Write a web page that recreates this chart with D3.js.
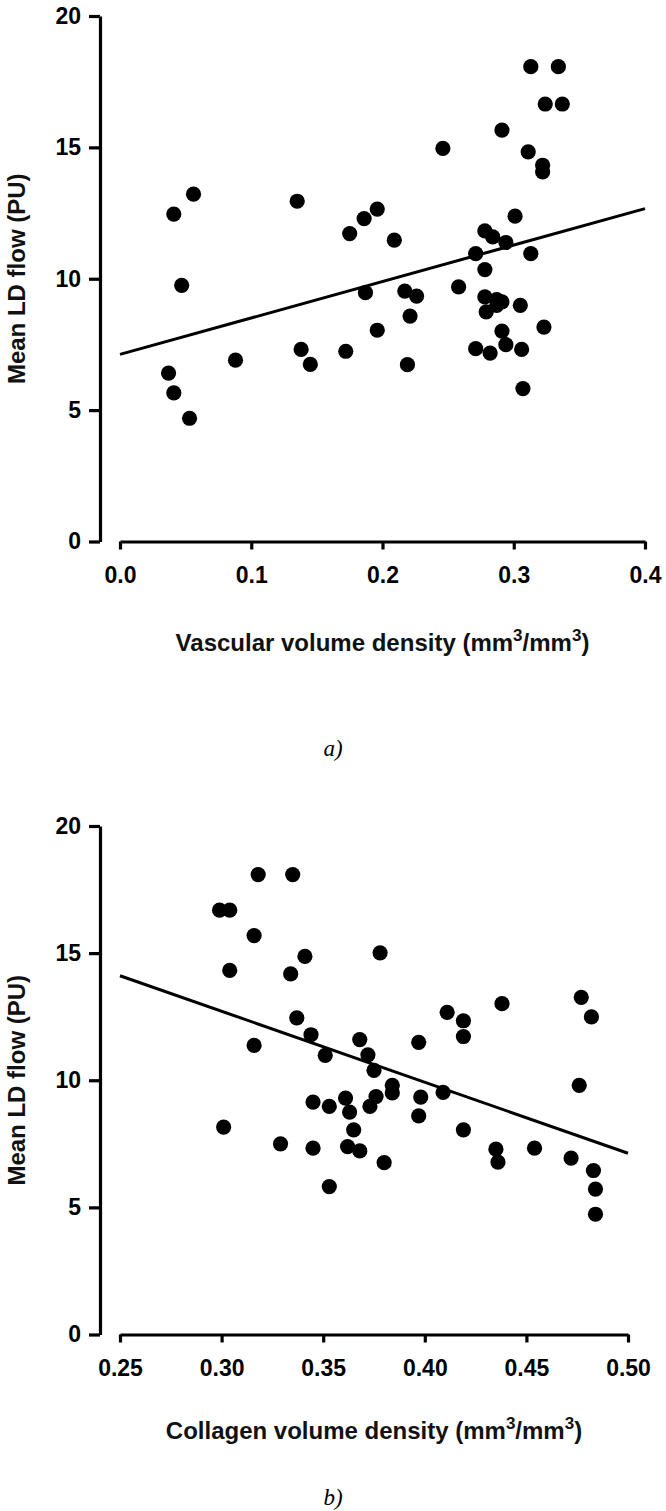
<!DOCTYPE html>
<html>
<head>
<meta charset="utf-8">
<script src="https://cdn.jsdelivr.net/npm/d3@7"></script>
<style>
  html, body { margin: 0; padding: 0; background: #fff; }
  svg { display: block; }
  .tick text { font-family: "Liberation Sans", Arial, sans-serif; font-weight: bold; font-size: 23px; fill: #000; }
  .title { font-family: "Liberation Sans", Arial, sans-serif; font-weight: bold; font-size: 24px; fill: #111; }
  .panel { font-family: "Liberation Serif", "Times New Roman", serif; font-style: italic; font-size: 23px; fill: #000; }
</style>
</head>
<body>
<script>
// ---------- DATA ----------
const yTicks = [0, 5, 10, 15, 20];

// Panel a) vascular volume density vs mean LD flow
const vascX = [0.056, 0.041, 0.047, 0.135, 0.037, 0.041, 0.053, 0.088, 0.138, 0.145,
  0.313, 0.334, 0.324, 0.337, 0.291, 0.246, 0.311, 0.322, 0.322, 0.301,
  0.196, 0.186, 0.175, 0.209, 0.278, 0.284, 0.294, 0.271, 0.313, 0.278,
  0.258, 0.187, 0.217, 0.226, 0.278, 0.287, 0.291, 0.279, 0.287, 0.305,
  0.221, 0.196, 0.291, 0.323, 0.172, 0.271, 0.282, 0.294, 0.306, 0.219, 0.307];
const vascY = [13.22, 12.46, 9.75, 12.95, 6.41, 5.66, 4.69, 6.90, 7.31, 6.74,
  18.07, 18.07, 16.65, 16.65, 15.66, 14.96, 14.83, 14.32, 14.07, 12.38,
  12.65, 12.29, 11.72, 11.47, 11.82, 11.59, 11.38, 10.96, 10.96, 10.35,
  9.69, 9.47, 9.53, 9.34, 9.31, 9.21, 9.12, 8.74, 8.99, 8.99,
  8.58, 8.04, 8.01, 8.16, 7.24, 7.34, 7.17, 7.49, 7.31, 6.73, 5.82];
const vascTicks = [0.0, 0.1, 0.2, 0.3, 0.4];
const vascFitX = [0.0, 0.4];
const vascFitY = [7.12, 12.67];

// Panel b) collagen volume density vs mean LD flow
const collX = [0.318, 0.335, 0.299, 0.304, 0.316, 0.341, 0.304, 0.334, 0.337, 0.344,
  0.316, 0.351, 0.345, 0.353, 0.301, 0.329, 0.345, 0.353, 0.368, 0.397,
  0.372, 0.375, 0.384, 0.384, 0.361, 0.376, 0.373, 0.398, 0.409, 0.363,
  0.397, 0.365, 0.419, 0.362, 0.368, 0.380, 0.435, 0.436, 0.454, 0.472,
  0.483, 0.484, 0.484, 0.476, 0.378, 0.411, 0.419, 0.419, 0.438, 0.477, 0.482];
const collY = [18.09, 18.09, 16.69, 16.69, 15.69, 14.87, 14.32, 14.18, 12.45, 11.79,
  11.37, 10.98, 9.14, 8.97, 8.16, 7.50, 7.33, 5.82, 11.60, 11.49,
  11.00, 10.39, 9.80, 9.50, 9.30, 9.36, 8.97, 9.34, 9.52, 8.75,
  8.60, 8.05, 8.05, 7.39, 7.22, 6.76, 7.29, 6.78, 7.33, 6.94,
  6.45, 5.72, 4.73, 9.80, 15.01, 12.67, 12.34, 11.72, 13.01, 13.26, 12.49];
const collTicks = [0.25, 0.30, 0.35, 0.40, 0.45, 0.50];
const collFitX = [0.25, 0.50];
const collFitY = [14.11, 7.13];

const yTitle = "Mean LD flow (PU)";

// ---------- DRAW ----------
const W = 666, H = 1511;
const svg = d3.select("body").append("svg").attr("width", W).attr("height", H);

function panel(opt) {
  const g = svg.append("g");
  const x = d3.scaleLinear().domain(opt.xDomain).range([opt.x0, opt.x1]);
  const y = d3.scaleLinear().domain([0, 20]).range([opt.yBottom, opt.yTop]);

  // y axis
  const ya = g.append("g").attr("transform", `translate(${opt.yAxisX},0)`)
    .call(d3.axisLeft(y).tickValues(yTicks).tickSize(11).tickSizeOuter(0).tickPadding(8).tickFormat(d3.format("d")));
  // x axis
  const xa = g.append("g").attr("transform", `translate(0,${opt.yBottom})`)
    .call(d3.axisBottom(x).tickValues(opt.xTicks).tickSize(8).tickSizeOuter(0).tickPadding(17).tickFormat(d3.format(opt.fmt)));
  [ya, xa].forEach(a => {
    a.selectAll("path.domain").attr("stroke", "#000").attr("stroke-width", 3.2);
    a.selectAll(".tick line").attr("stroke", "#000").attr("stroke-width", 3.2);
  });

  // regression line
  g.append("path")
    .datum(d3.zip(opt.fitX, opt.fitY))
    .attr("fill", "none").attr("stroke", "#000").attr("stroke-width", 3)
    .attr("d", d3.line().x(d => x(d[0])).y(d => y(d[1])));

  // points
  g.append("g").selectAll("circle")
    .data(d3.zip(opt.xs, opt.ys))
    .join("circle")
    .attr("cx", d => x(d[0])).attr("cy", d => y(d[1]))
    .attr("r", 7.6).attr("fill", "#000");

  // y title
  g.append("text").attr("class", "title")
    .attr("transform", `translate(25,${(opt.yTop + opt.yBottom) / 2}) rotate(-90)`)
    .attr("text-anchor", "middle")
    .text(yTitle);

  // x title with superscripts
  const t = g.append("text").attr("class", "title")
    .attr("x", (opt.x0 + opt.x1) / 2).attr("y", opt.xTitleY)
    .attr("text-anchor", "middle");
  t.append("tspan").text(opt.xTitle + " (mm");
  t.append("tspan").attr("dy", -10).attr("font-size", "17px").text("3");
  t.append("tspan").attr("dy", 10).text("/mm");
  t.append("tspan").attr("dy", -10).attr("font-size", "17px").text("3");
  t.append("tspan").attr("dy", 10).text(")");

  // panel letter
  g.append("text").attr("class", "panel")
    .attr("x", W / 2).attr("y", opt.letterY).attr("text-anchor", "middle")
    .text(opt.letter);
}

panel({
  xs: vascX, ys: vascY, xDomain: [0, 0.4], xTicks: vascTicks, fmt: ".1f",
  fitX: vascFitX, fitY: vascFitY,
  x0: 120, x1: 645, yTop: 16, yBottom: 541.5, yAxisX: 100,
  xTitle: "Vascular volume density", xTitleY: 651, letter: "a)", letterY: 756
});

panel({
  xs: collX, ys: collY, xDomain: [0.25, 0.5], xTicks: collTicks, fmt: ".2f",
  fitX: collFitX, fitY: collFitY,
  x0: 120, x1: 628, yTop: 826, yBottom: 1334.5, yAxisX: 100,
  xTitle: "Collagen volume density", xTitleY: 1439, letter: "b)", letterY: 1505
});
</script>
</body>
</html>
